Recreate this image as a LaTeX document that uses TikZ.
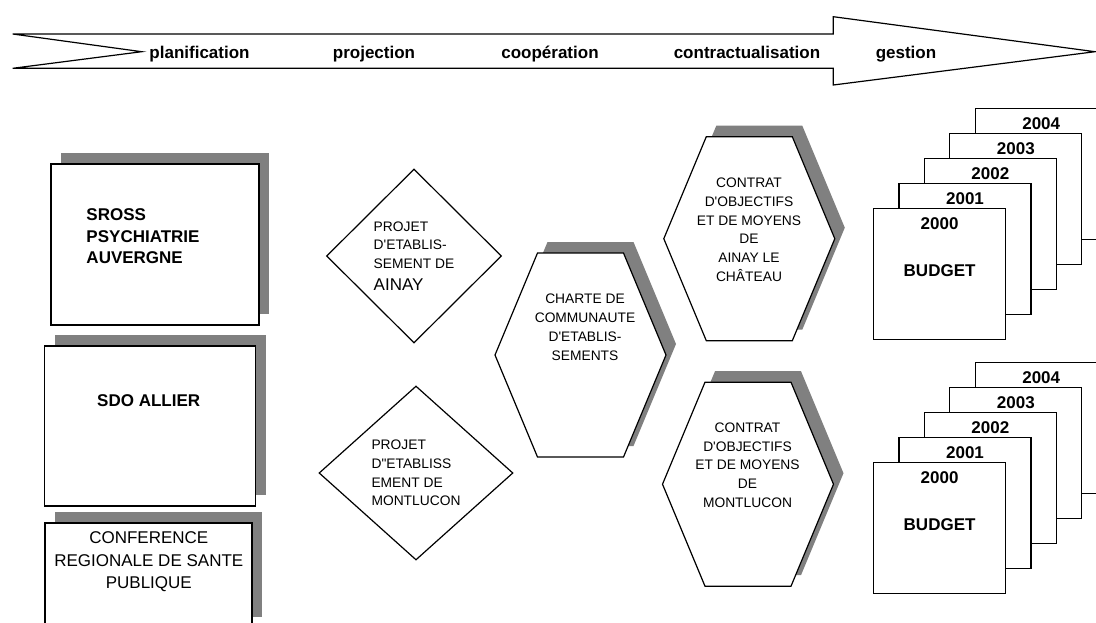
\documentclass[tikz,border=0pt]{standalone}
\usepackage{fontspec}
\setmainfont{Liberation Sans}
\usetikzlibrary{shapes.geometric,shadows,calc}

\definecolor{shadowgray}{RGB}{128,128,128}
\newcommand\apos{\textquotesingle}

\tikzset{
  shadowed/.style={drop shadow={shadow xshift=10pt, shadow yshift=11pt, opacity=1, fill=shadowgray}},
  planbox/.style={draw, fill=white, inner sep=0pt, shadowed},
  hexbox/.style={draw, fill=white, shadowed},
  page/.style={draw, fill=white, inner sep=0pt, anchor=north west, minimum width=132pt, minimum height=130.5pt},
  bigbold/.style={font=\fontsize{17}{21.5}\selectfont\bfseries, inner sep=0pt},
  bigtext/.style={font=\fontsize{17}{22.5}\selectfont, inner sep=0pt, align=center},
  smalltext/.style={font=\fontsize{13.8}{18.8}\selectfont, inner sep=0pt},
  phase/.style={font=\fontsize{17}{20}\selectfont\bfseries, anchor=base, inner sep=0pt},
}

% hexagon around a centre coordinate
\newcommand\hexa[1]{\draw[hexbox] (#1) ++(-43,-102) -- ++(86,0) -- ++(42.5,102) -- ++(-42.5,102) -- ++(-86,0) -- ++(-42.5,-102) -- cycle;}

\begin{document}
\begin{tikzpicture}[x=1pt, y=-1pt, line width=1.2pt]
\useasboundingbox (0,0) rectangle (1096,622);
\clip (0,0) rectangle (1096,622);

% time line
\draw (12.7,34) -- (833.3,34) -- (833.3,16.7) -- (1095,51.7) -- (833.3,85) -- (833.3,68.3) -- (12.7,68.3) -- (141.7,51.7) -- cycle;
\node[phase] (planif) at (199.5,58.5) {planification};
\node[phase] (proj) at (374,58.5) {projection};
\node[phase] (coop) at (550,58.5) {coopération};
\node[phase] (contract) at (747,58.5) {contractualisation};
\node[phase] (gest) at (906,58.5) {gestion};

% planning documents
\node[planbox, minimum width=208pt, minimum height=161pt] (sross) at (155,244.5) {};
\node[bigbold, align=left] (sross-t) at (143,236.5) {SROSS\\PSYCHIATRIE\\AUVERGNE};
\node[planbox, minimum width=211pt, minimum height=160pt] (sdo) at (150.2,425.9) {};
\node[bigbold] (sdo-t) at (148.7,401) {SDO ALLIER};
\node[planbox, minimum width=207pt, minimum height=105pt] (crsp) at (148.4,575.5) {};
\node[bigtext] (crsp-t) at (148.8,561.7) {CONFERENCE\\REGIONALE DE SANTE\\PUBLIQUE};

% projects
\node[diamond, draw, smalltext, align=left, minimum width=175pt, minimum height=174pt] (projA) at (414,256)
  {PROJET\\D\apos ETABLIS-\\SEMENT DE\\[3pt]{\fontsize{17}{20}\selectfont AINAY}};
\node[diamond, draw, smalltext, align=left, minimum width=194pt, minimum height=174pt] (projB) at (416,473)
  {PROJET\\D\textquotedbl ETABLISS\\EMENT DE\\MONTLUCON};

% charter and contracts
\coordinate (charte-c) at (580.5,355);
\coordinate (contratA-c) at (749.3,238.7);
\coordinate (contratB-c) at (748,484.2);
\hexa{charte-c}
\hexa{contratA-c}
\hexa{contratB-c}
\node[smalltext, align=center] (charte) at (585,327.4) {CHARTE DE\\COMMUNAUTE\\D\apos ETABLIS-\\SEMENTS};
\node[smalltext, align=center] (contratA) at (749,229.7) {CONTRAT\\D\apos OBJECTIFS\\ET DE MOYENS\\DE\\AINAY LE\\CHÂTEAU};
\node[smalltext, align=center] (contratB) at (747.5,465.2) {CONTRAT\\D\apos OBJECTIFS\\ET DE MOYENS\\DE\\MONTLUCON};

% yearly budgets
\foreach \s/\ytop in {A/208, B/462} {
  \foreach \k in {4,3,2,1,0} {
    \pgfmathtruncatemacro\yr{2000+\k}
    \node[page] (budget\s-\yr) at ({873+25.4*\k}, {\ytop-25*\k}) {};
    \node[bigbold, below=9.4pt] (year\s-\yr) at (budget\s-\yr.north) {\yr};
  }
  \node[bigbold] (budget\s) at ($(budget\s-2000.north)+(0,62.5)$) {BUDGET};
}
\end{tikzpicture}
\end{document}
